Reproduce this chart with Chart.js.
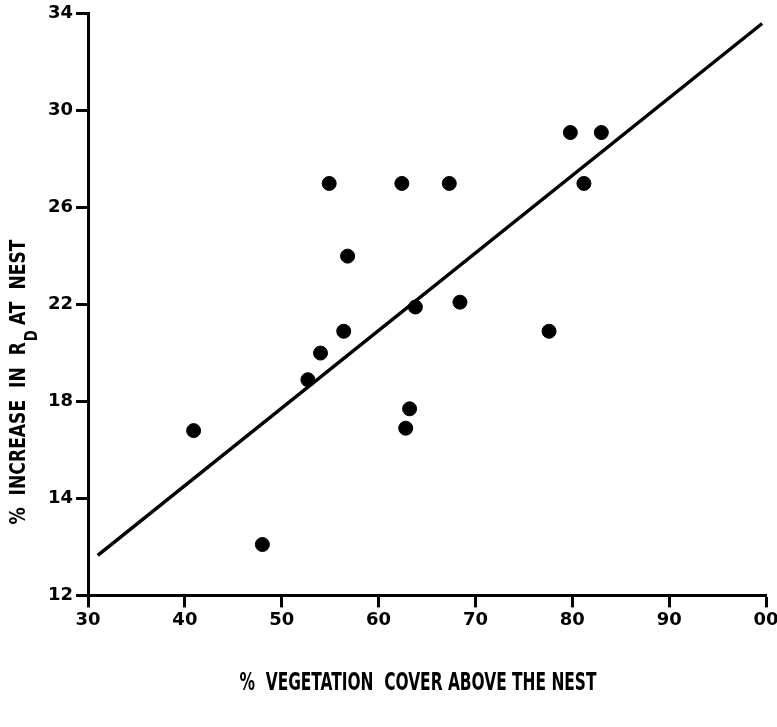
<!DOCTYPE html>
<html>
<head>
<meta charset="utf-8">
<script src="https://cdn.jsdelivr.net/npm/chart.js@4/dist/chart.umd.min.js"></script>
<style>
  html, body { margin: 0; padding: 0; background: #ffffff; }
  #wrap { width: 777px; height: 727px; }
</style>
</head>
<body>
<div id="wrap"><canvas id="c" width="777" height="727"></canvas></div>
<script>
// ---- data ----
const vegCover = [40.9, 48.0, 52.7, 54.0, 54.9, 56.4, 56.8, 62.8, 63.2, 62.4, 63.8, 67.3, 68.4, 77.6, 79.8, 81.2, 83.0];
const rdIncrease = [16.8, 12.1, 18.9, 20.0, 27.0, 20.9, 24.0, 16.9, 17.7, 27.0, 21.9, 27.0, 22.1, 20.9, 29.1, 27.0, 29.1];
const fitX = [31.0, 99.6];
const fitY = [11.65, 33.6];
const xTickValues = [30, 40, 50, 60, 70, 80, 90, 100];
const xTickLabels = ['30', '40', '50', '60', '70', '80', '90', '00'];
const yTickValues = [10, 14, 18, 22, 26, 30, 34];
const yTickLabels = ['12', '14', '18', '22', '26', '30', '34'];
const xTitle = '%  VEGETATION  COVER ABOVE THE NEST';
const yTitleParts = ['%  INCREASE  IN  R', 'D', ' AT  NEST'];

const points = vegCover.map((v, i) => ({ x: v, y: rdIncrease[i] }));
const fitLine = fitX.map((v, i) => ({ x: v, y: fitY[i] }));

const narrow = '"Liberation Sans Narrow", "DejaVu Sans Condensed", "Liberation Sans", sans-serif';
const tickFont = { family: '"DejaVu Sans", sans-serif', size: 18, weight: 'bold' };

const titlesPlugin = {
  id: 'axisTitles',
  afterDraw(chart) {
    const ctx = chart.ctx;
    ctx.save();
    ctx.fillStyle = '#000';
    ctx.textBaseline = 'middle';
    ctx.textAlign = 'left';
    // y-axis title with subscript
    ctx.font = 'bold 22px ' + narrow;
    const w0 = ctx.measureText(yTitleParts[0]).width;
    ctx.font = 'bold 17px ' + narrow;
    const w1 = ctx.measureText(yTitleParts[1]).width;
    ctx.font = 'bold 22px ' + narrow;
    const w2 = ctx.measureText(yTitleParts[2]).width;
    const total = w0 + w1 + w2;
    ctx.save();
    ctx.translate(19, 382);
    ctx.rotate(-Math.PI / 2);
    ctx.scale(285 / total, 1);
    let x = -total / 2;
    ctx.fillText(yTitleParts[0], x, 0);
    x += w0;
    ctx.font = 'bold 17px ' + narrow;
    ctx.fillText(yTitleParts[1], x + 1, 14);
    x += w1;
    ctx.font = 'bold 22px ' + narrow;
    ctx.fillText(yTitleParts[2], x, 0);
    ctx.restore();
    // x-axis title
    ctx.save();
    ctx.font = 'bold 24px ' + narrow;
    const wx = ctx.measureText(xTitle).width;
    ctx.translate(418, 684);
    ctx.scale(357 / wx, 1);
    ctx.textAlign = 'center';
    ctx.fillText(xTitle, 0, 0);
    ctx.restore();
    ctx.restore();
  }
};

new Chart(document.getElementById('c'), {
  type: 'scatter',
  data: {
    datasets: [
      {
        type: 'scatter',
        data: points,
        backgroundColor: '#000',
        borderColor: '#000',
        pointRadius: 7,
        pointHoverRadius: 7
      },
      {
        type: 'line',
        data: fitLine,
        borderColor: '#000',
        borderWidth: 3.5,
        pointRadius: 0,
        fill: false,
        tension: 0
      }
    ]
  },
  options: {
    responsive: false,
    animation: false,
    events: [],
    layout: { padding: { left: 45, top: 6, right: 0, bottom: 94 } },
    plugins: { legend: { display: false }, tooltip: { enabled: false } },
    scales: {
      x: {
        type: 'linear',
        min: 30, max: 100,
        afterBuildTicks(scale) { scale.ticks = xTickValues.map(v => ({ value: v })); },
        afterFit(scale) { scale.paddingRight = 11; },
        ticks: {
          color: '#000', font: tickFont, padding: 2, maxRotation: 0,
          callback(value) { const i = xTickValues.indexOf(value); return i >= 0 ? xTickLabels[i] : ''; }
        },
        grid: { drawOnChartArea: false, drawTicks: true, tickLength: 12, tickWidth: 3, tickColor: '#000' },
        border: { display: true, color: '#000', width: 3 }
      },
      y: {
        type: 'linear',
        min: 10, max: 34,
        afterBuildTicks(scale) { scale.ticks = yTickValues.map(v => ({ value: v })); },
        ticks: {
          color: '#000', font: tickFont, padding: 3,
          callback(value) { const i = yTickValues.indexOf(value); return i >= 0 ? yTickLabels[i] : ''; }
        },
        grid: { drawOnChartArea: false, drawTicks: true, tickLength: 12, tickWidth: 3, tickColor: '#000' },
        border: { display: true, color: '#000', width: 3 }
      }
    }
  },
  plugins: [titlesPlugin]
});
</script>
</body>
</html>
